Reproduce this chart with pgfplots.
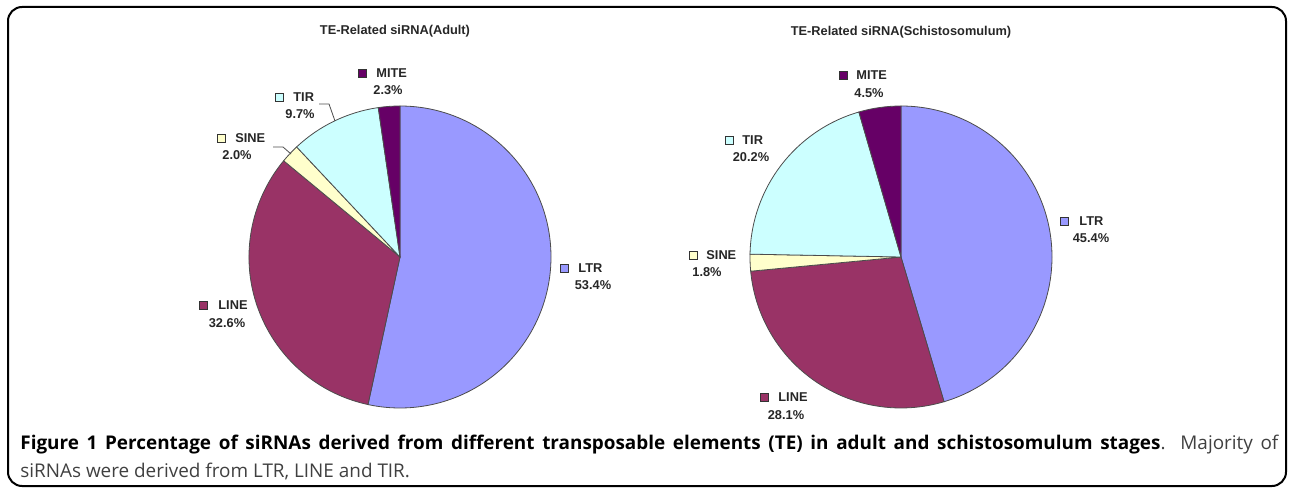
\documentclass[border=0pt]{standalone}
\usepackage{pgfplots}
\usepackage{pgfplotstable}
\pgfplotsset{compat=1.18}
\usepackage{fontspec}
\setmainfont{Liberation Sans}
\newfontfamily\capfont{Open Sans}
\definecolor{cLTR}{HTML}{9999FF}
\definecolor{cLINE}{HTML}{993366}
\definecolor{cSINE}{HTML}{FFFFCC}
\definecolor{cTIR}{HTML}{CCFFFF}
\definecolor{cMITE}{HTML}{660066}

% value in percent; key / name / value-label positions in pixel units
\pgfplotstableread{
name value kx  ky  nx  vx  vy
LTR  53.4  564 268 578 593 285
LINE 32.6  203 305 218 227 323
SINE 2.0   221 138 235 237 155
TIR  9.7   279  97 293 300 114
MITE 2.3   362  73 376 388  90
}\adult
\pgfplotstableread{
name value kx   ky  nx   vx   vy
LTR  45.4  1064 221 1079 1091 238
LINE 28.1  764  397 778  786  415
SINE 1.8   693  255 706  707  272
TIR  20.2  729  140 742  751  157
MITE 4.5   843   75 856  869   93
}\schisto

\tikzset{lbl/.style={font=\bfseries\fontsize{6.4}{7}\selectfont, inner sep=0pt, text=black!85}}

\newcommand\drawpie[3]{%
  \def\cum{0}%
  \pgfplotsforeachungrouped \i in {0,...,4}{%
    \pgfplotstablegetelem{\i}{name}\of{#1}\let\nm\pgfplotsretval
    \pgfplotstablegetelem{\i}{value}\of{#1}\let\val\pgfplotsretval
    \pgfmathsetmacro\sa{90-3.6*\cum}%
    \pgfmathsetmacro\ea{90-3.6*(\cum+\val)}%
    \pgfmathsetmacro\cum{\cum+\val}%
    \edef\temp{\noexpand\filldraw[fill=c\nm, draw=black!70, line width=0.4pt]
      (axis cs:#2,#3) -- ++(\sa:75.5pt) arc[start angle=\sa, end angle=\ea, radius=75.5pt] -- cycle;}%
    \temp
  }%
  \pgfplotsforeachungrouped \i in {0,...,4}{%
    \pgfplotstablegetelem{\i}{name}\of{#1}\let\nm\pgfplotsretval
    \pgfplotstablegetelem{\i}{value}\of{#1}\let\val\pgfplotsretval
    \pgfplotstablegetelem{\i}{kx}\of{#1}\let\kx\pgfplotsretval
    \pgfplotstablegetelem{\i}{ky}\of{#1}\let\ky\pgfplotsretval
    \pgfplotstablegetelem{\i}{nx}\of{#1}\let\nx\pgfplotsretval
    \pgfplotstablegetelem{\i}{vx}\of{#1}\let\vx\pgfplotsretval
    \pgfplotstablegetelem{\i}{vy}\of{#1}\let\vy\pgfplotsretval
    \edef\temp{\noexpand\addplot[only marks, mark=square*, mark size=2pt,
      mark options={fill=c\nm, draw=black!80, line width=0.4pt}] coordinates {(\kx,\ky)};
      \noexpand\node[lbl, anchor=west] at (axis cs:\nx,\ky) {\nm};
      \noexpand\node[lbl] at (axis cs:\vx,\vy) {\val\noexpand\%};}%
    \temp
  }%
}

\begin{document}
\begin{tikzpicture}
\begin{axis}[
  x=0.5pt, y=0.5pt, scale only axis,
  xmin=0, xmax=1292, ymin=0, ymax=492, y dir=reverse,
  hide axis, clip=false]
\path (axis cs:0,0) rectangle (axis cs:1292,492);
\draw[rounded corners=7pt, line width=1pt] (axis cs:8,7) rectangle (axis cs:1286,486);
\node[lbl] at (axis cs:395,31) {TE-Related siRNA(Adult)};
\node[lbl] at (axis cs:901,32) {TE-Related siRNA(Schistosomulum)};
\drawpie{\adult}{400}{257}
\drawpie{\schisto}{901}{257}
\addplot[black!70, line width=0.4pt] coordinates {(319,104) (329,104) (335,121)};
\addplot[black!70, line width=0.4pt] coordinates {(273,147) (283,147) (291,154)};
\node[anchor=north west, inner sep=0pt, text width=629pt, align=justify,
      font=\capfont\fontsize{9.45}{13.8}\selectfont] at (axis cs:20,435)
  {{\bfseries Figure 1 Percentage of siRNAs derived from different transposable elements (TE) in adult and schistosomulum stages}\textcolor{black!75}{. Majority of\linebreak siRNAs were derived from LTR, LINE and TIR.}};
\end{axis}
\end{tikzpicture}
\end{document}
